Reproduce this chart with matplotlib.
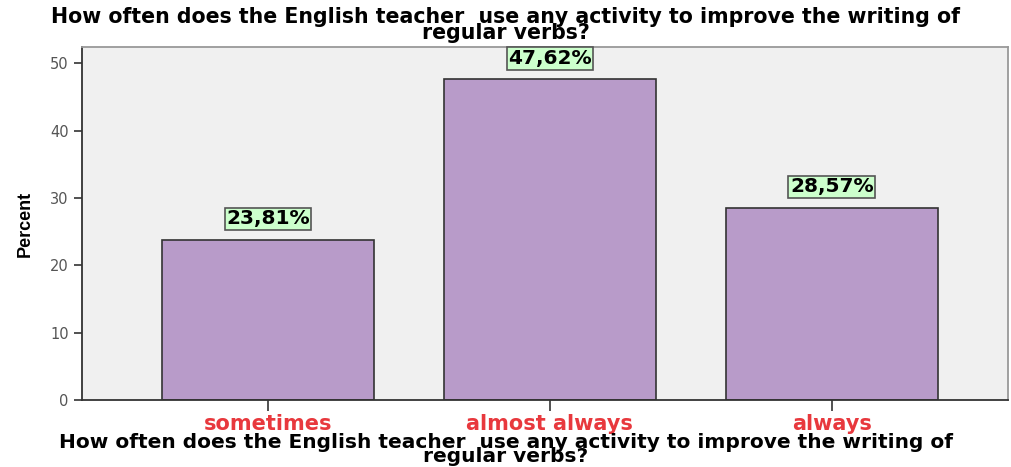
import matplotlib
matplotlib.use("Agg")
import matplotlib.pyplot as plt

categories = ["sometimes", "almost always", "always"]
values = [23.81, 47.62, 28.57]
labels = ["23,81%", "47,62%", "28,57%"]
yticks = [0, 10, 20, 30, 40, 50]
title = "How often does the English teacher  use any activity to improve the writing of\nregular verbs?"

plt.rcParams['font.family'] = ['DejaVu Sans']

fig = plt.figure(figsize=(10.12, 4.67), dpi=100)
ax = fig.add_axes([82/1012, 1-400/467, 926/1012, 353/467])
ax.set_facecolor('#F0F0F0')
x = list(range(len(categories)))
ax.bar(x, values, width=0.75, color='#B89BC9', edgecolor='#333333', linewidth=1.2, zorder=2)
for xi, v, lab in zip(x, values, labels):
    ax.annotate(lab, (xi, v), xytext=(0, 8), textcoords='offset points', ha='center', va='bottom',
                fontsize=14.5, fontweight='bold', color='black',
                bbox=dict(boxstyle='square,pad=0.08', facecolor='#CCFFCC', edgecolor='#555555', linewidth=1.2))
ax.set_xlim(-0.66, 2.625)
ax.set_ylim(0, 52.4)
ax.set_yticks(yticks)
ax.set_xticks(x)
ax.set_xticklabels(categories, color='#E8383D', fontsize=15, fontweight='bold')
ax.tick_params(axis='x', length=8, width=1.2, color='#333333', pad=2)
ax.tick_params(axis='y', length=6, width=1.2, color='#333333', labelsize=10.5, labelcolor='#555555')
for s in ['left', 'bottom']:
    ax.spines[s].set_color('#333333')
    ax.spines[s].set_linewidth(1.3)
for s in ['top', 'right']:
    ax.spines[s].set_color('#999999')
    ax.spines[s].set_linewidth(1.3)
ax.set_ylabel('Percent', fontsize=13, fontweight='bold', labelpad=12,
              family=['Liberation Sans Narrow', 'Liberation Sans'])
fig.text(0.5, 1-7/467, title, ha='center', va='top', fontsize=14.8, fontweight='bold', linespacing=0.74)
fig.text(0.5, 1/467, title, ha='center', va='bottom', fontsize=14.5, fontweight='bold', linespacing=0.7)
fig.savefig('out.png', dpi=100)
